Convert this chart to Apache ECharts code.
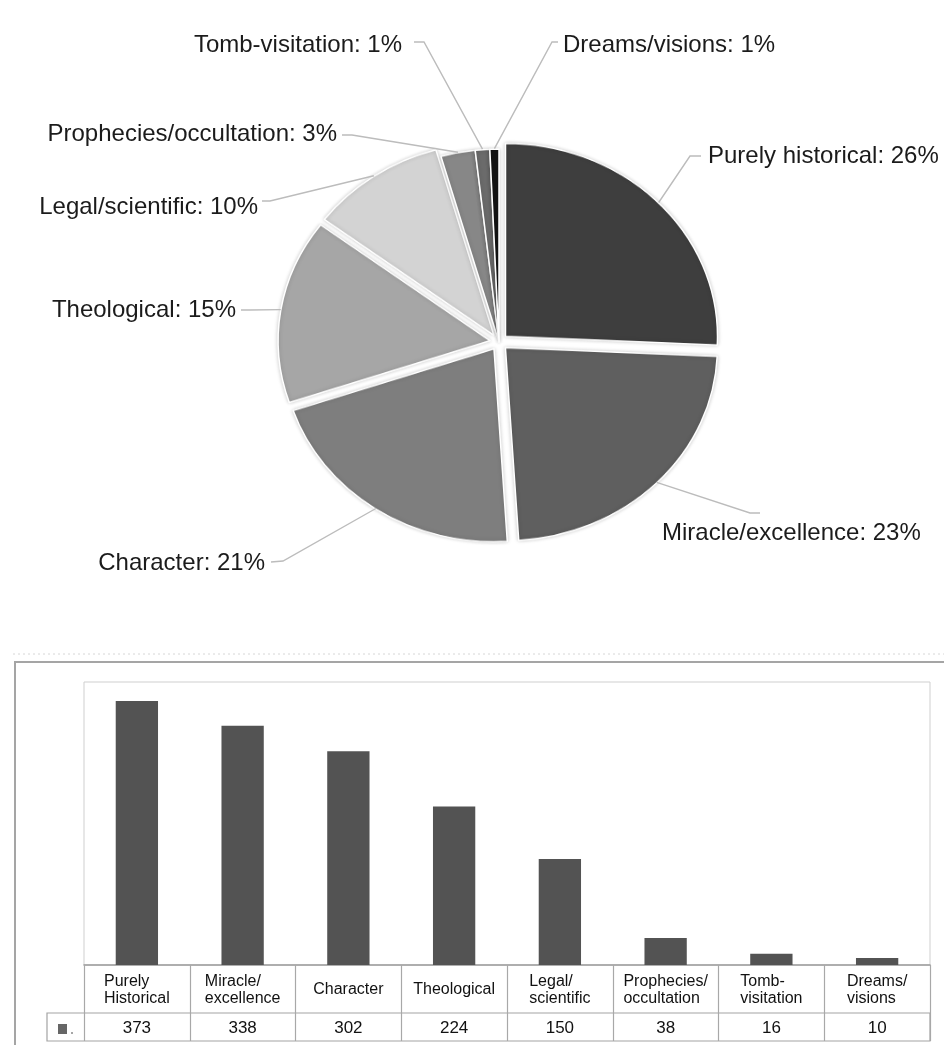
<!DOCTYPE html>
<html>
<head>
<meta charset="utf-8">
<script src="https://cdn.jsdelivr.net/npm/echarts@6/dist/echarts.min.js"></script>
<style>
  html, body { margin: 0; padding: 0; background: #fff; overflow: hidden; }
  /* the pie layer is squeezed vertically so the disc renders as a slight ellipse */
  #pie { position: absolute; left: 0; top: 41.5px; width: 944px; height: 600px;
         transform: scaleY(0.91); transform-origin: 50% 50%; }
  #main { position: absolute; left: 0; top: 0; width: 944px; height: 1045px; }
</style>
</head>
<body>
<div id="pie"></div>
<div id="main"></div>
<script>
// Categories of narrations and the number of narrations in each
const pieNames = ['Purely historical', 'Miracle/excellence', 'Character', 'Theological',
                  'Legal/scientific', 'Prophecies/occultation', 'Tomb-visitation', 'Dreams/visions'];
const tableNames = ['Purely\nHistorical', 'Miracle/\nexcellence', 'Character', 'Theological',
                    'Legal/\nscientific', 'Prophecies/\noccultation', 'Tomb-\nvisitation', 'Dreams/\nvisions'];
const counts = [373, 338, 302, 224, 150, 38, 16, 10];
const yMax = 400;

// slice styling
const sliceColors = ['#3e3e3e', '#5f5f5f', '#7e7e7e', '#a6a6a6', '#d3d3d3', '#878787', '#6b6b6b', '#141414'];
const pulledOut = [true, true, true, true, true, false, false, false];

// pie geometry on the page
const PIE = { cx: 499, cy: 341.5, r: 212, squash: 0.91, pull: 9 };

// placement of each pie label and the bend of its leader line
const labelSpots = [
  { x: 708, y: 156, align: 'left',  bend: [690, 156], end: [701, 156] },
  { x: 662, y: 533, align: 'left',  bend: [750, 513], end: [760, 513] },
  { x: 265, y: 563, align: 'right', bend: [283, 561], end: [271, 562] },
  { x: 236, y: 310, align: 'right', bend: [250, 310], end: [241, 310] },
  { x: 258, y: 207, align: 'right', bend: [270, 201], end: [262, 201] },
  { x: 337, y: 134, align: 'right', bend: [352, 135], end: [342, 135] },
  { x: 402, y: 45,  align: 'right', bend: [424, 42],  end: [414, 42] },
  { x: 563, y: 45,  align: 'left',  bend: [552, 42],  end: [558, 42] }
];

const total = counts.reduce((a, b) => a + b, 0);

// point on the outer rim of slice i, at its middle angle
function edgePoint(i) {
  let before = 0;
  for (let k = 0; k < i; k++) before += counts[k];
  const mid = (before + counts[i] / 2) / total * 2 * Math.PI;
  const rr = PIE.r + (pulledOut[i] ? PIE.pull : 0);
  return [PIE.cx + rr * Math.sin(mid), PIE.cy - PIE.squash * rr * Math.cos(mid)];
}

const pieData = counts.map((v, i) => ({
  name: pieNames[i],
  value: v,
  selected: pulledOut[i],
  itemStyle: { color: sliceColors[i] }
}));

// ---- pie discs ----
const pieChart = echarts.init(document.getElementById('pie'), null, { renderer: 'canvas' });
pieChart.setOption({
  animation: false,
  series: [{
    type: 'pie',
    center: [PIE.cx, 300],
    radius: PIE.r,
    startAngle: 90,
    clockwise: true,
    selectedMode: 'multiple',
    selectedOffset: PIE.pull,
    label: { show: false },
    labelLine: { show: false },
    emphasis: { disabled: true },
    itemStyle: {
      borderColor: '#ffffff',
      borderWidth: 1.5,
      shadowBlur: 4,
      shadowColor: 'rgba(0,0,0,0.2)'
    },
    select: { itemStyle: { borderColor: '#ffffff', borderWidth: 1.5 } },
    data: pieData
  }]
});

// ---- pie labels, bar chart and data table ----
const chart = echarts.init(document.getElementById('main'), null, { renderer: 'canvas' });
chart.setOption({
  animation: false,
  backgroundColor: 'transparent',
  grid: {
    left: 84, right: 14, top: 682, bottom: 80,
    show: true, borderColor: '#cfcfcf', borderWidth: 1,
    backgroundColor: 'transparent',
    outerBoundsMode: 'none'
  },
  xAxis: [
    {
      type: 'category',
      data: tableNames,
      position: 'bottom',
      boundaryGap: true,
      axisLine: { show: true, lineStyle: { color: '#9c9c9c', width: 1.5 } },
      axisTick: { show: true, interval: 0, length: 76, lineStyle: { color: '#a8a8a8', width: 1.2 } },
      axisLabel: {
        interval: 0,
        margin: 25,
        verticalAlign: 'middle',
        color: '#111',
        fontSize: 16,
        lineHeight: 17,
        fontFamily: 'Liberation Sans',
        formatter: v => v.split('\n').map(s => '{l|' + s + '}').join('\n'),
        rich: { l: { align: 'left', fontSize: 16, lineHeight: 17, fontFamily: 'Liberation Sans', color: '#111' } }
      },
      splitLine: { show: false }
    },
    {
      type: 'category',
      data: tableNames,
      position: 'bottom',
      axisLine: { show: false },
      axisTick: { show: false },
      axisLabel: {
        interval: 0,
        margin: 63,
        verticalAlign: 'middle',
        color: '#111',
        fontSize: 17,
        fontFamily: 'Liberation Sans',
        formatter: (v, i) => String(counts[i])
      },
      splitLine: { show: false }
    }
  ],
  yAxis: { type: 'value', min: 0, max: yMax, show: false },
  graphic: [
    { type: 'line', silent: true, shape: { x1: 13, y1: 654, x2: 944, y2: 654 },
      style: { stroke: '#d6d6d6', lineWidth: 1, lineDash: [2, 3] } },
    { type: 'rect', silent: true, shape: { x: 15, y: 662, width: 960, height: 420 },
      style: { fill: 'none', stroke: '#a5a5a5', lineWidth: 2 } },
    { type: 'rect', silent: true, shape: { x: 47, y: 1013, width: 883, height: 28 },
      style: { fill: 'none', stroke: '#a3a3a3', lineWidth: 1.2 } },
    { type: 'rect', silent: true, shape: { x: 58, y: 1024, width: 9, height: 10 },
      style: { fill: '#666666' } },
    { type: 'circle', silent: true, shape: { cx: 72, cy: 1033, r: 1 },
      style: { fill: '#888888' } }
  ],
  series: [
    {
      type: 'bar',
      xAxisIndex: 0,
      yAxisIndex: 0,
      data: counts,
      barWidth: '40%',
      itemStyle: { color: '#535353' },
      emphasis: { disabled: true }
    },
    {
      type: 'pie',
      silent: true,
      center: [PIE.cx, PIE.cy],
      radius: 12,
      startAngle: 90,
      clockwise: true,
      percentPrecision: 0,
      itemStyle: { color: 'rgba(0,0,0,0)', borderWidth: 0 },
      emphasis: { disabled: true },
      label: {
        show: true,
        formatter: '{b}: {d}%',
        fontSize: 24,
        fontFamily: 'Liberation Sans',
        color: '#1b1b1b'
      },
      labelLine: { show: true, length: 10, length2: 10, smooth: false,
                   lineStyle: { color: '#bcbcbc', width: 1.4 } },
      labelLayout: function (p) {
        const s = labelSpots[p.dataIndex];
        return {
          x: s.x, y: s.y, align: s.align, verticalAlign: 'middle',
          labelLinePoints: [edgePoint(p.dataIndex), s.bend, s.end]
        };
      },
      data: counts.map((v, i) => ({ name: pieNames[i], value: v }))
    }
  ]
});
</script>
</body>
</html>
